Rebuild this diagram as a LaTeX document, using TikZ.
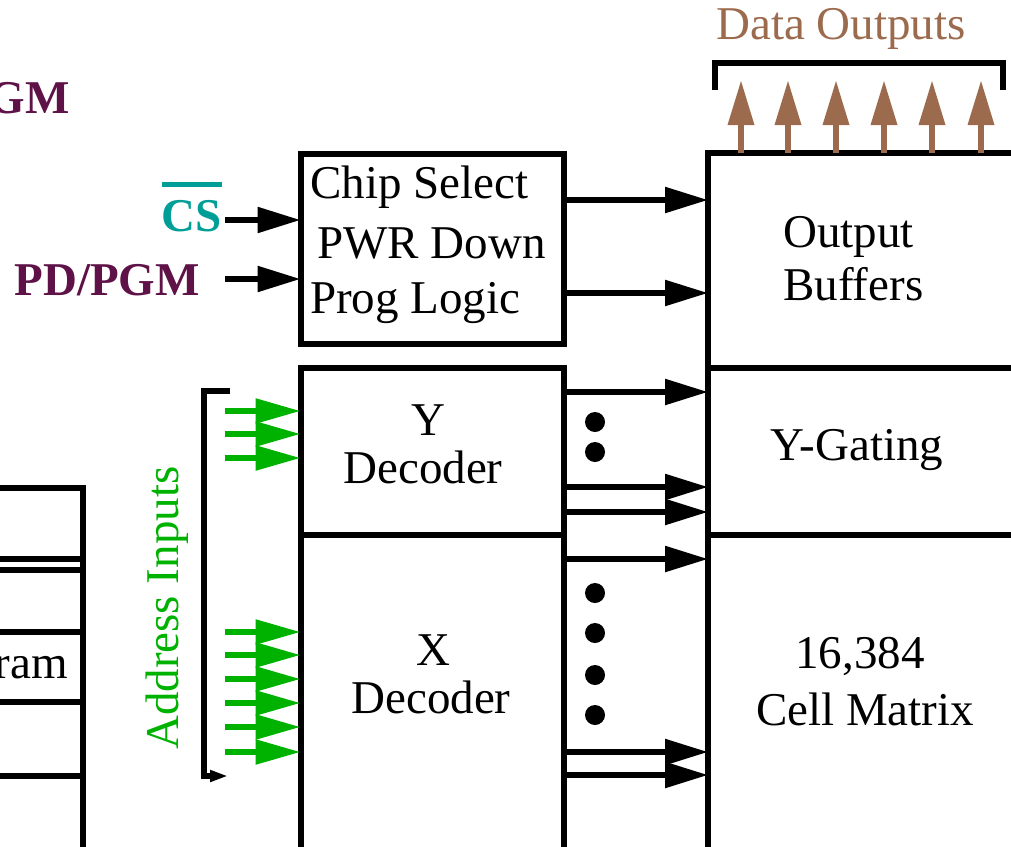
\documentclass[tikz,border=0pt]{standalone}
\usepackage{fontspec}
\setmainfont{Liberation Serif}
\usetikzlibrary{arrows.meta}
\definecolor{pdpurple}{RGB}{94,18,72}
\definecolor{csteal}{RGB}{0,158,150}
\definecolor{addrgreen}{RGB}{0,178,0}
\definecolor{databrown}{RGB}{156,107,78}
\tikzset{
  blk/.style={draw=black, line width=6pt, rectangle, inner sep=0pt, outer sep=0pt},
  lbl/.style={inner sep=0pt, font=\fontsize{47}{56}\selectfont},
  sig/.style={inner sep=0pt, font=\fontsize{47}{56}\selectfont\bfseries},
  arr/.style={line width=5.5pt, -{Triangle[length=43pt,width=25pt]}},
  garr/.style={addrgreen, line width=5.5pt, -{Triangle[length=45pt,width=24pt]}},
  barr/.style={databrown, line width=6.5pt, -{Triangle[length=45pt,width=25pt]}},
  dotc/.style={circle, fill=black, inner sep=0pt, minimum size=20pt},
  brk/.style={line width=6pt}
}
\begin{document}
\begin{tikzpicture}[x=1pt,y=-1pt]
\useasboundingbox (0,0) rectangle (1011,846);
\clip (0,0) rectangle (1011,846);
% blocks
\node[blk, minimum width=263pt, minimum height=190pt] (chip) at (432,248.5) {};
\node[blk, minimum width=263pt, minimum height=167pt] (ydec) at (432,451.5) {};
\node[blk, minimum width=263pt, minimum height=365pt] (xdec) at (432,717.5) {};
\node[blk, minimum width=340pt, minimum height=215pt] (obuf) at (878,260.5) {};
\node[blk, minimum width=340pt, minimum height=167pt] (ygat) at (878,451.5) {};
\node[blk, minimum width=340pt, minimum height=365pt] (cmat) at (878,717.5) {};
% left partial block
\node[blk, minimum width=143pt, minimum height=420pt] (lblk) at (11.5,698) {};
\draw[brk] (lblk.west |- 0,559) -- (lblk.east |- 0,559);
\draw[brk] (lblk.west |- 0,570) -- (lblk.east |- 0,570);
\draw[brk] (lblk.west |- 0,632) -- (lblk.east |- 0,632);
\draw[brk] (lblk.west |- 0,702) -- (lblk.east |- 0,702);
\draw[brk] (lblk.west |- 0,776) -- (lblk.east |- 0,776);
\node[lbl, anchor=base east] (prog) at (68,678) {Program};
% texts in blocks
\node[lbl, anchor=base west] (t1) at (310,198) {Chip Select};
\node[lbl, anchor=base west] (t2) at (317,258) {PWR Down};
\node[lbl, anchor=base west] (t3) at (310,313) {Prog Logic};
\node[lbl, anchor=base west] (t4) at (783,247) {Output};
\node[lbl, anchor=base west] (t5) at (783,300) {Buffers};
\node[lbl, anchor=base] (t6) at (857,460) {Y-Gating};
\node[lbl, anchor=base] (t7) at (860,668) {16,384};
\node[lbl, anchor=base] (t8) at (865,725) {Cell Matrix};
\node[lbl, anchor=base] (t9) at (428,435) {Y};
\node[lbl, anchor=base] (t10) at (423,483) {Decoder};
\node[lbl, anchor=base] (t11) at (433,665) {X};
\node[lbl, anchor=base] (t12) at (431,713) {Decoder};
% control signals
\node[sig, anchor=base east, text=pdpurple] (pgmtop) at (70,113) {PD/PGM};
\node[sig, anchor=base east, text=pdpurple] (pd) at (200,295) {PD/PGM};
\node[sig, anchor=base east, text=csteal] (cs) at (222,231) {CS};
\draw[csteal, line width=4.5pt] ([yshift=15pt]cs.north west) -- ([yshift=15pt]cs.north east);
\coordinate (csin) at (225,220);
\coordinate (pdin) at (225,279);
\draw[arr] (csin) -- (chip.west |- csin);
\draw[arr] (pdin) -- (chip.west |- pdin);
% chip to output buffers
\draw[arr] (chip.east |- 0,200) -- (obuf.west |- 0,200);
\draw[arr] (chip.east |- 0,293) -- (obuf.west |- 0,293);
% Y decoder outputs
\draw[arr] (ydec.east |- 0,392) -- (ygat.west |- 0,392);
\draw[arr] (ydec.east |- 0,487) -- (ygat.west |- 0,487);
\draw[arr] (ydec.east |- 0,512) -- (ygat.west |- 0,512);
% X decoder outputs
\draw[arr] (xdec.east |- 0,559) -- (cmat.west |- 0,559);
\draw[arr] (xdec.east |- 0,752) -- (cmat.west |- 0,752);
\draw[arr] (xdec.east |- 0,775) -- (cmat.west |- 0,775);
% dots
\node[dotc] (d1) at (595,422) {};
\node[dotc] (d2) at (595,452) {};
\node[dotc] (d3) at (595,593) {};
\node[dotc] (d4) at (595,633) {};
\node[dotc] (d5) at (595,675) {};
\node[dotc] (d6) at (595,715) {};
% address inputs
\node[lbl, text=addrgreen, rotate=90, anchor=base west] (addr) at (178,750) {Address Inputs};
\coordinate (bt) at (230,391);
\coordinate (bb) at (228,776);
\draw[brk, -{Triangle[length=18pt,width=11pt]}] (bt) -- (204,391) -- (204,776) -- (bb);
\foreach \yy in {411,434,458} {
  \draw[garr] (225,\yy) -- (ydec.west |- 0,\yy);
}
\foreach \yy in {632,655,679,703,727,752} {
  \draw[garr] (225,\yy) -- (xdec.west |- 0,\yy);
}
% data outputs
\node[lbl, text=databrown, anchor=base west] (dout) at (716,39) {Data Outputs};
\draw[brk] (715,90) -- (715,63) -- (1003,63) -- (1003,90);
\foreach \xx in {741,788,836,884,932,981} {
  \draw[barr] (obuf.north -| \xx,0) -- (\xx,80);
}
\end{tikzpicture}
\end{document}
